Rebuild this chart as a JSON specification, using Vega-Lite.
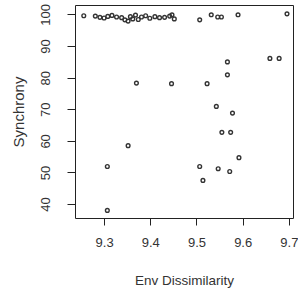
{
  "$schema": "https://vega.github.io/schema/vega-lite/v6.json",
  "width": 218,
  "height": 213,
  "autosize": {"type": "none"},
  "padding": {"left": 75, "top": 5, "right": 5, "bottom": 75},
  "background": "white",
  "config": {
    "view": {"stroke": "#222", "strokeWidth": 1},
    "font": "Liberation Sans"
  },
  "data": {
    "values": [
      {"env": 9.256, "sync": 99.6},
      {"env": 9.281, "sync": 99.5},
      {"env": 9.291, "sync": 99.1},
      {"env": 9.300, "sync": 98.9},
      {"env": 9.308, "sync": 99.4},
      {"env": 9.317, "sync": 99.7},
      {"env": 9.327, "sync": 99.2},
      {"env": 9.338, "sync": 99.0},
      {"env": 9.345, "sync": 98.3},
      {"env": 9.352, "sync": 97.9},
      {"env": 9.357, "sync": 99.3},
      {"env": 9.362, "sync": 98.6},
      {"env": 9.368, "sync": 99.8},
      {"env": 9.374, "sync": 98.4},
      {"env": 9.381, "sync": 99.2},
      {"env": 9.390, "sync": 99.6},
      {"env": 9.399, "sync": 98.8},
      {"env": 9.410, "sync": 99.3},
      {"env": 9.420, "sync": 99.0},
      {"env": 9.431, "sync": 99.1},
      {"env": 9.442, "sync": 99.5},
      {"env": 9.447, "sync": 99.9},
      {"env": 9.452, "sync": 98.6},
      {"env": 9.507, "sync": 98.3},
      {"env": 9.532, "sync": 99.9},
      {"env": 9.546, "sync": 99.2},
      {"env": 9.554, "sync": 99.2},
      {"env": 9.590, "sync": 99.9},
      {"env": 9.696, "sync": 100.2},
      {"env": 9.370, "sync": 78.3},
      {"env": 9.446, "sync": 78.1},
      {"env": 9.523, "sync": 78.1},
      {"env": 9.567, "sync": 85.0},
      {"env": 9.567, "sync": 80.9},
      {"env": 9.659, "sync": 86.1},
      {"env": 9.679, "sync": 86.1},
      {"env": 9.543, "sync": 70.9},
      {"env": 9.578, "sync": 68.8},
      {"env": 9.555, "sync": 62.7},
      {"env": 9.574, "sync": 62.7},
      {"env": 9.592, "sync": 54.7},
      {"env": 9.507, "sync": 51.9},
      {"env": 9.547, "sync": 51.2},
      {"env": 9.572, "sync": 50.3},
      {"env": 9.514, "sync": 47.5},
      {"env": 9.352, "sync": 58.5},
      {"env": 9.307, "sync": 51.9},
      {"env": 9.307, "sync": 38.0}
    ]
  },
  "mark": {"type": "point", "shape": "circle", "filled": false, "size": 14, "stroke": "#333", "strokeWidth": 1.4, "opacity": 1},
  "encoding": {
    "x": {
      "field": "env", "type": "quantitative",
      "scale": {"domain": [9.237, 9.709], "nice": false, "zero": false},
      "axis": {
        "title": "Env Dissimilarity",
        "values": [9.3, 9.4, 9.5, 9.6, 9.7],
        "format": ".1f",
        "grid": false, "domain": false,
        "tickColor": "#222", "tickSize": 7,
        "labelFontSize": 13, "labelColor": "#333", "labelPadding": 11,
        "titleFontSize": 13.5, "titleFontWeight": "normal", "titleColor": "#333", "titlePadding": 24
      }
    },
    "y": {
      "field": "sync", "type": "quantitative",
      "scale": {"domain": [35.6, 103.0], "nice": false, "zero": false},
      "axis": {
        "title": "Synchrony",
        "values": [40, 50, 60, 70, 80, 90, 100],
        "grid": false, "domain": false,
        "tickColor": "#222", "tickSize": 8,
        "labelAngle": 270, "labelAlign": "center", "labelBaseline": "bottom",
        "labelFontSize": 13, "labelColor": "#333", "labelPadding": 15,
        "titleFontSize": 15, "titleFontWeight": "normal", "titleColor": "#333", "titlePadding": 13
      }
    }
  }
}
